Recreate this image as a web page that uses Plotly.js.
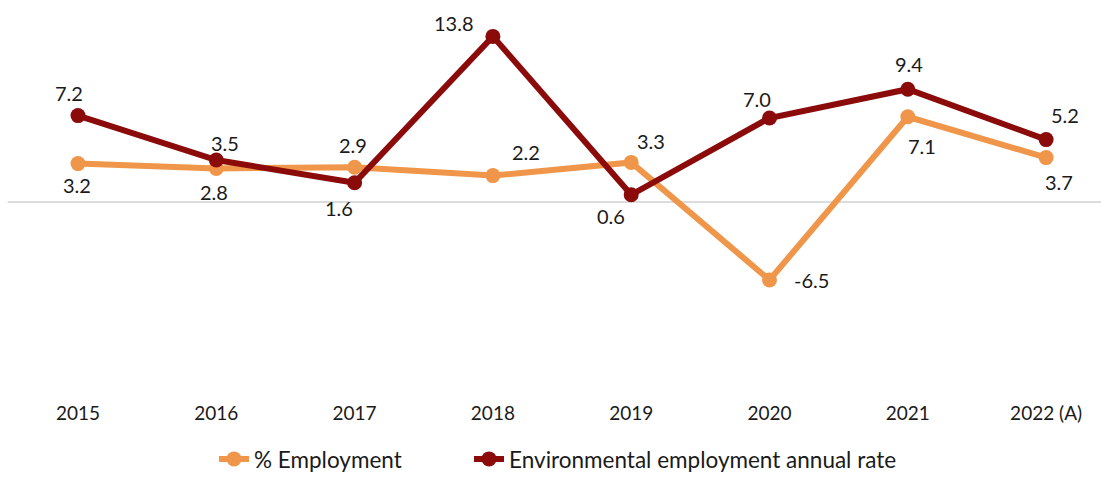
<!DOCTYPE html>
<html>
<head>
<meta charset="utf-8">
<script src="https://cdn.plot.ly/plotly-3.0.1.min.js"></script>
<style>html,body{margin:0;padding:0;background:#fff;}#chart{width:1101px;height:477px;}</style>
</head>
<body>
<div id="chart"></div>
<script>
const years = ["2015", "2016", "2017", "2018", "2019", "2020", "2021", "2022 (A)"];
const employment = [3.2, 2.8, 2.9, 2.2, 3.3, -6.5, 7.1, 3.7];
const envRate = [7.2, 3.5, 1.6, 13.8, 0.6, 7.0, 9.4, 5.2];

// label offsets in pixels (xshift, yshift)
const empShift = [[-1,-21],[-2,-24],[-2,22],[33,24],[20,21],[42,0],[14,-29],[13,-24]];
const envShift = [[-9,23],[9,17],[-16,-25],[-39,13],[-20,-21],[-13,19],[1,25],[19,25]];

const orange = "#F0964A";
const darkred = "#8B0B0B";
const FONT = "Lato, 'Open Sans', sans-serif";

const traces = [
  {x: years, y: employment, name: "% Employment", type: "scatter", mode: "lines+markers",
   line: {color: orange, width: 6}, marker: {color: orange, size: 15}, legend: "legend"},
  {x: years, y: envRate, name: "Environmental employment annual rate", type: "scatter", mode: "lines+markers",
   line: {color: darkred, width: 6}, marker: {color: darkred, size: 15}, legend: "legend2"}
];

const annotations = [];
function addLabels(vals, shifts) {
  vals.forEach((v, i) => {
    annotations.push({x: i, y: v, xref: "x", yref: "y", text: v.toFixed(1), showarrow: false,
      xshift: shifts[i][0], yshift: shifts[i][1],
      font: {family: FONT, size: 20, color: "#1a1a1a"}});
  });
}
addLabels(employment, empShift);
addLabels(envRate, envShift);

const legendFont = {family: FONT, size: 22.5, color: "#1a1a1a"};
const layout = {
  width: 1101, height: 477,
  margin: {l: 0, r: 0, t: 21.5, b: 77, autoexpand: false},
  paper_bgcolor: "#fff", plot_bgcolor: "#fff",
  showlegend: true,
  legend: {orientation: "h", x: 0.1944, xanchor: "left", y: -0.1, yanchor: "top", font: legendFont},
  legend2: {orientation: "h", x: 0.426, xanchor: "left", y: -0.1, yanchor: "top", font: legendFont},
  xaxis: {type: "category", range: [-0.564, 7.397], showgrid: false, zeroline: false, showline: false,
    ticks: "", tickfont: {family: FONT, size: 19, color: "#1a1a1a"}, fixedrange: true},
  yaxis: {range: [-16.5, 15], showgrid: false, zeroline: false, showline: false, showticklabels: false, ticks: ""},
  shapes: [{type: "line", xref: "paper", yref: "y", x0: 0.007, x1: 1, y0: 0, y1: 0,
    line: {color: "#D0D0D0", width: 1.5}, layer: "below"}],
  annotations: annotations
};

Plotly.newPlot("chart", traces, layout, {displayModeBar: false, staticPlot: true});
</script>
</body>
</html>
